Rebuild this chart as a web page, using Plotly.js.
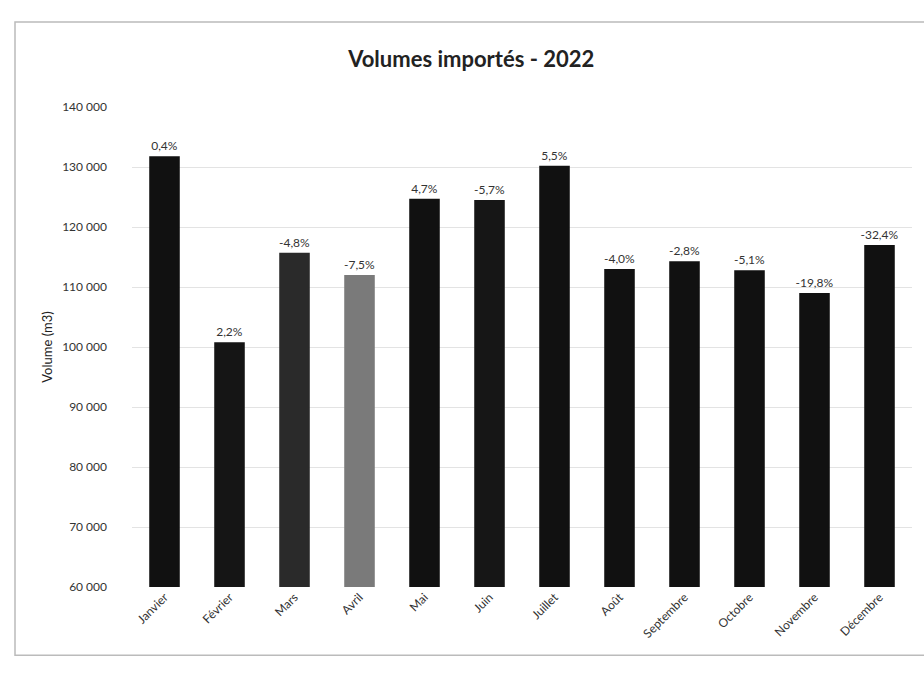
<!DOCTYPE html>
<html>
<head>
<meta charset="utf-8">
<script src="https://cdn.plot.ly/plotly-3.0.1.min.js"></script>
<style>html,body{margin:0;padding:0;background:#fff;}#chart{width:924px;height:677px;}</style>
</head>
<body>
<div id="chart"></div>
<script>
const months = ["Janvier","Février","Mars","Avril","Mai","Juin","Juillet","Août","Septembre","Octobre","Novembre","Décembre"];
const volumes = [131800,100800,115700,112000,124700,124500,130200,113000,114300,112800,109000,117000];
const variations = ["0,4%","2,2%","-4,8%","-7,5%","4,7%","-5,7%","5,5%","-4,0%","-2,8%","-5,1%","-19,8%","-32,4%"];
const barColors = ["#111111","#151515","#2a2a2a","#7a7a7a","#111111","#161616","#111111","#111111","#111111","#111111","#111111","#111111"];

const trace = {
  type: "bar",
  x: months,
  y: volumes,
  text: variations,
  textposition: "outside",
  constraintext: "none",
  cliponaxis: false,
  textfont: {family: "Lato, 'Open Sans', sans-serif", size: 12, color: "#333"},
  marker: {color: barColors},
  hoverinfo: "x+y"
};

const layout = {
  width: 924, height: 677,
  paper_bgcolor: "#fff", plot_bgcolor: "#fff",
  separators: ", ",
  margin: {l: 132, r: 12, t: 107, b: 90},
  bargap: 0.53,
  showlegend: false,
  title: {
    text: "<b>Volumes importés - 2022</b>",
    x: 0.51, xanchor: "center", y: 0.912, yanchor: "middle",
    font: {family: "Lato, 'Open Sans', sans-serif", size: 22, color: "#222"}
  },
  xaxis: {
    tickangle: -45,
    tickfont: {family: "Lato, 'Open Sans', sans-serif", size: 12, color: "#333"},
    showgrid: false, zeroline: false, showline: false, ticks: ""
  },
  yaxis: {
    range: [60000, 140000],
    dtick: 10000,
    tickformat: ",d",
    tickfont: {family: "Lato, 'Open Sans', sans-serif", size: 12, color: "#333"},
    gridcolor: "#e3e3e3", gridwidth: 1,
    zeroline: false, showline: false, ticks: "",
    ticklabelstandoff: 24,
    title: {text: "Volume (m3)", standoff: 6, font: {family: "Lato, 'Open Sans', sans-serif", size: 13, color: "#222"}}
  },
  shapes: [{
    type: "rect", xref: "paper", yref: "paper",
    x0: -0.15, x1: 1.02, y0: -0.142, y1: 1.177,
    line: {color: "#bbbbbb", width: 1.5}, fillcolor: "rgba(0,0,0,0)"
  }]
};

Plotly.newPlot("chart", [trace], layout, {displayModeBar: false, staticPlot: true});
</script>
</body>
</html>
